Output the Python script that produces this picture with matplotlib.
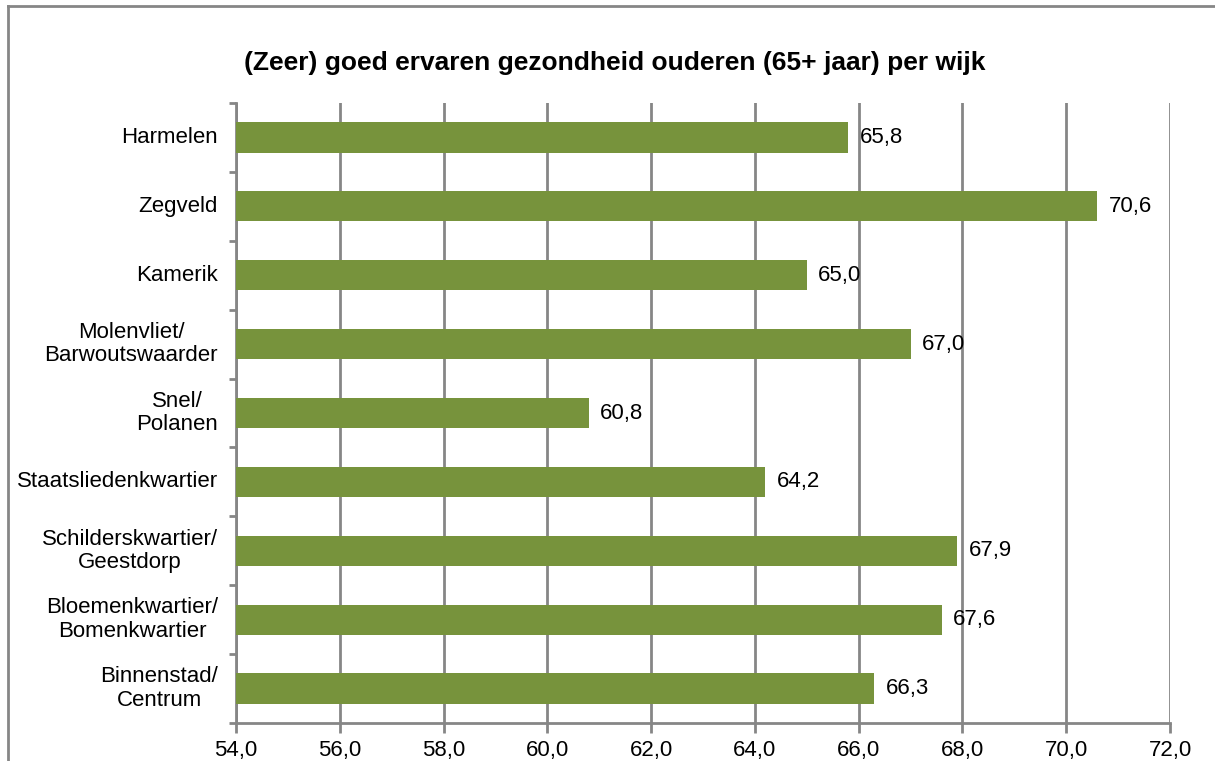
import matplotlib.pyplot as plt
from matplotlib.lines import Line2D
from matplotlib.transforms import blended_transform_factory
from matplotlib.ticker import FuncFormatter, FixedLocator, NullFormatter

plt.rcParams['font.family'] = ['Liberation Sans', 'DejaVu Sans']

wijken = ['Harmelen', 'Zegveld', 'Kamerik', 'Molenvliet/\nBarwoutswaarder',
          'Snel/\nPolanen', 'Staatsliedenkwartier', 'Schilderskwartier/\nGeestdorp',
          'Bloemenkwartier/\nBomenkwartier', 'Binnenstad/\nCentrum']
percentages = [65.8, 70.6, 65.0, 67.0, 60.8, 64.2, 67.9, 67.6, 66.3]
x_ticks = [54, 56, 58, 60, 62, 64, 66, 68, 70, 72]

groen = '#77933C'
grijs = '#868686'
fs = 16

fig = plt.figure(figsize=(12.15, 7.61), dpi=100)
ax = fig.add_axes([236 / 1215, 1 - 723 / 761, (1170 - 236) / 1215, (723 - 103) / 761])

posities = list(range(len(wijken)))
ax.barh(posities, percentages, height=0.44, left=0, color=groen, zorder=3)
ax.set_xlim(54, 72)
ax.set_ylim(len(wijken) - 0.5, -0.5)

# waarde-labels naast de balken
for p, v in zip(posities, percentages):
    ax.text(v + 0.22, p, f'{v:.1f}'.replace('.', ','), va='center', ha='left',
            fontsize=fs, color='black', zorder=4)

ax.set_xticks(x_ticks)
ax.xaxis.set_major_formatter(FuncFormatter(lambda x, _: f'{x:.1f}'.replace('.', ',')))
ax.grid(axis='x', color=grijs, linewidth=2, zorder=0)
ax.tick_params(axis='x', length=7, width=2, color=grijs, labelsize=fs, pad=5)

# categorie-ticks op de grenzen
ax.yaxis.set_major_locator(FixedLocator([i - 0.5 for i in range(len(wijken) + 1)]))
ax.yaxis.set_major_formatter(NullFormatter())
ax.tick_params(axis='y', which='major', length=5, width=2, color=grijs)

# categorie-labels, rechts uitgelijnd en regels gecentreerd
trans = blended_transform_factory(fig.transFigure, ax.transData)
for p, naam in zip(posities, wijken):
    fig.text(218 / 1215, p, naam, transform=trans, ha='right', va='center',
             multialignment='center', fontsize=fs, linespacing=1.15)

for s in ['top', 'right']:
    ax.spines[s].set_visible(False)
for s in ['left', 'bottom']:
    ax.spines[s].set_color(grijs)
    ax.spines[s].set_linewidth(2)

fig.text(615 / 1215, 1 - 63 / 761, '(Zeer) goed ervaren gezondheid ouderen (65+ jaar) per wijk',
         ha='center', va='center', fontsize=19, fontweight='bold')

# kader rond de grafiek (alleen links en boven zichtbaar)
fig.add_artist(Line2D([8 / 1215, 8 / 1215], [-0.1, 1 - 6 / 761], transform=fig.transFigure,
                      color=grijs, linewidth=2))
fig.add_artist(Line2D([8 / 1215, 1.1], [1 - 6 / 761, 1 - 6 / 761], transform=fig.transFigure,
                      color=grijs, linewidth=2))

fig.savefig('out.png', dpi=100)
